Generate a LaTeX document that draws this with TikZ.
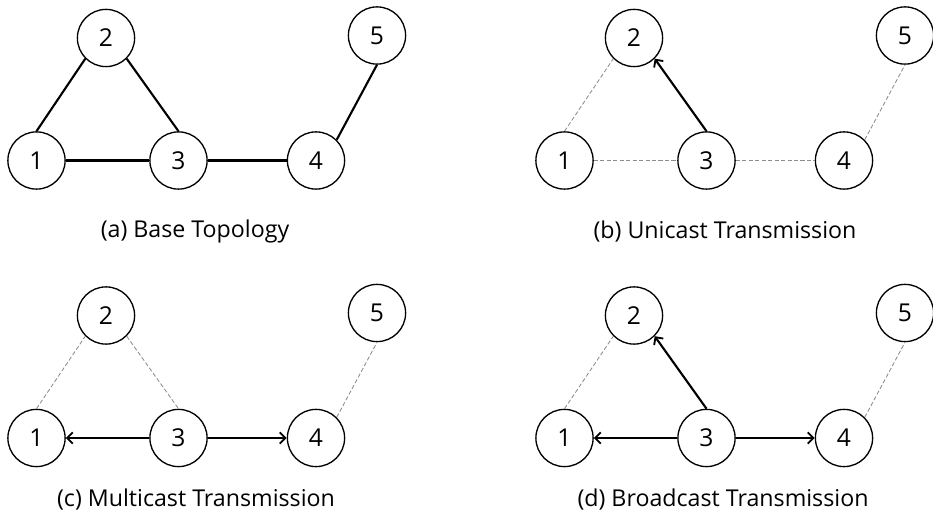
\documentclass[tikz,border=0pt]{standalone}
\usepackage{fontspec}
\setmainfont{Open Sans}
\usepackage{tikz}
\usetikzlibrary{arrows.meta}
\usepackage{color}
\definecolor{idlegray}{RGB}{140, 140, 140}

\tikzset{
    station/.style = {draw, circle, line width=0.95pt, minimum size=1.43cm, inner sep=0pt,
                      font=\fontsize{17.5}{20}\selectfont},
    link/.style    = {line width=1.5pt},
    idle/.style    = {color=idlegray, line width=0.6pt, dash pattern=on 3pt off 1.6pt},
    send/.style    = {line width=1.5pt, -{Straight Barb[length=4pt,width=8pt,line width=1.3pt]}},
    caption/.style = {font=\fontsize{16.5}{19}\selectfont}
}

\begin{document}
\begin{tikzpicture}[x=0.025cm, y=-0.025cm]
            % Frame to ensure alignment:
            \useasboundingbox                                   (0.0, 0.0) rectangle (933.0, 517.0);

            % (a) all links present
            \begin{scope}
                \node[station] (a1) at ( 36.5, 160.5) {1};
                \node[station] (a2) at (106.0,  38.0) {2};
                \node[station] (a3) at (178.5, 160.5) {3};
                \node[station] (a4) at (316.0, 160.5) {4};
                \node[station] (a5) at (377.0,  35.5) {5};
                \draw[link] (a1.north)      -- (a2.south west);
                \draw[link] (a2.south east) -- (a3.north);
                \draw[link] (a1.east)       -- (a3.west);
                \draw[link] (a3.east)       -- (a4.west);
                \draw[link] (a4.north east) -- (a5.south);
                \node[caption] (acap) at (195.0, 231.5) {(a) Base Topology};
            \end{scope}

            % (b) one receiver
            \begin{scope}[shift={(528.0, 0.0)}]
                \node[station] (b1) at ( 36.5, 160.5) {1};
                \node[station] (b2) at (106.0,  38.0) {2};
                \node[station] (b3) at (178.5, 160.5) {3};
                \node[station] (b4) at (316.0, 160.5) {4};
                \node[station] (b5) at (377.0,  35.5) {5};
                \draw[idle] (b1.north)      -- (b2.south west);
                \draw[idle] (b1.east)       -- (b3.west);
                \draw[idle] (b3.east)       -- (b4.west);
                \draw[idle] (b4.north east) -- (b5.south);
                \draw[send] (b3.north)      -- (b2.south east);
                \node[caption] (bcap) at (197.0, 231.5) {(b) Unicast Transmission};
            \end{scope}

            % (c) a group of receivers
            \begin{scope}[shift={(0.0, 277.5)}]
                \node[station] (c1) at ( 36.5, 160.5) {1};
                \node[station] (c2) at (106.0,  38.0) {2};
                \node[station] (c3) at (178.5, 160.5) {3};
                \node[station] (c4) at (316.0, 160.5) {4};
                \node[station] (c5) at (377.0,  35.5) {5};
                \draw[idle] (c1.north)      -- (c2.south west);
                \draw[idle] (c2.south east) -- (c3.north);
                \draw[idle] (c4.north east) -- (c5.south);
                \draw[send] (c3.west)       -- (c1.east);
                \draw[send] (c3.east)       -- (c4.west);
                \node[caption] (ccap) at (196.0, 222.0) {(c) Multicast Transmission};
            \end{scope}

            % (d) every neighbour
            \begin{scope}[shift={(528.0, 277.5)}]
                \node[station] (d1) at ( 36.5, 160.5) {1};
                \node[station] (d2) at (106.0,  38.0) {2};
                \node[station] (d3) at (178.5, 160.5) {3};
                \node[station] (d4) at (316.0, 160.5) {4};
                \node[station] (d5) at (377.0,  35.5) {5};
                \draw[idle] (d1.north)      -- (d2.south west);
                \draw[idle] (d4.north east) -- (d5.south);
                \draw[send] (d3.north)      -- (d2.south east);
                \draw[send] (d3.west)       -- (d1.east);
                \draw[send] (d3.east)       -- (d4.west);
                \node[caption] (dcap) at (195.0, 222.0) {(d) Broadcast Transmission};
            \end{scope}
\end{tikzpicture}
\end{document}
